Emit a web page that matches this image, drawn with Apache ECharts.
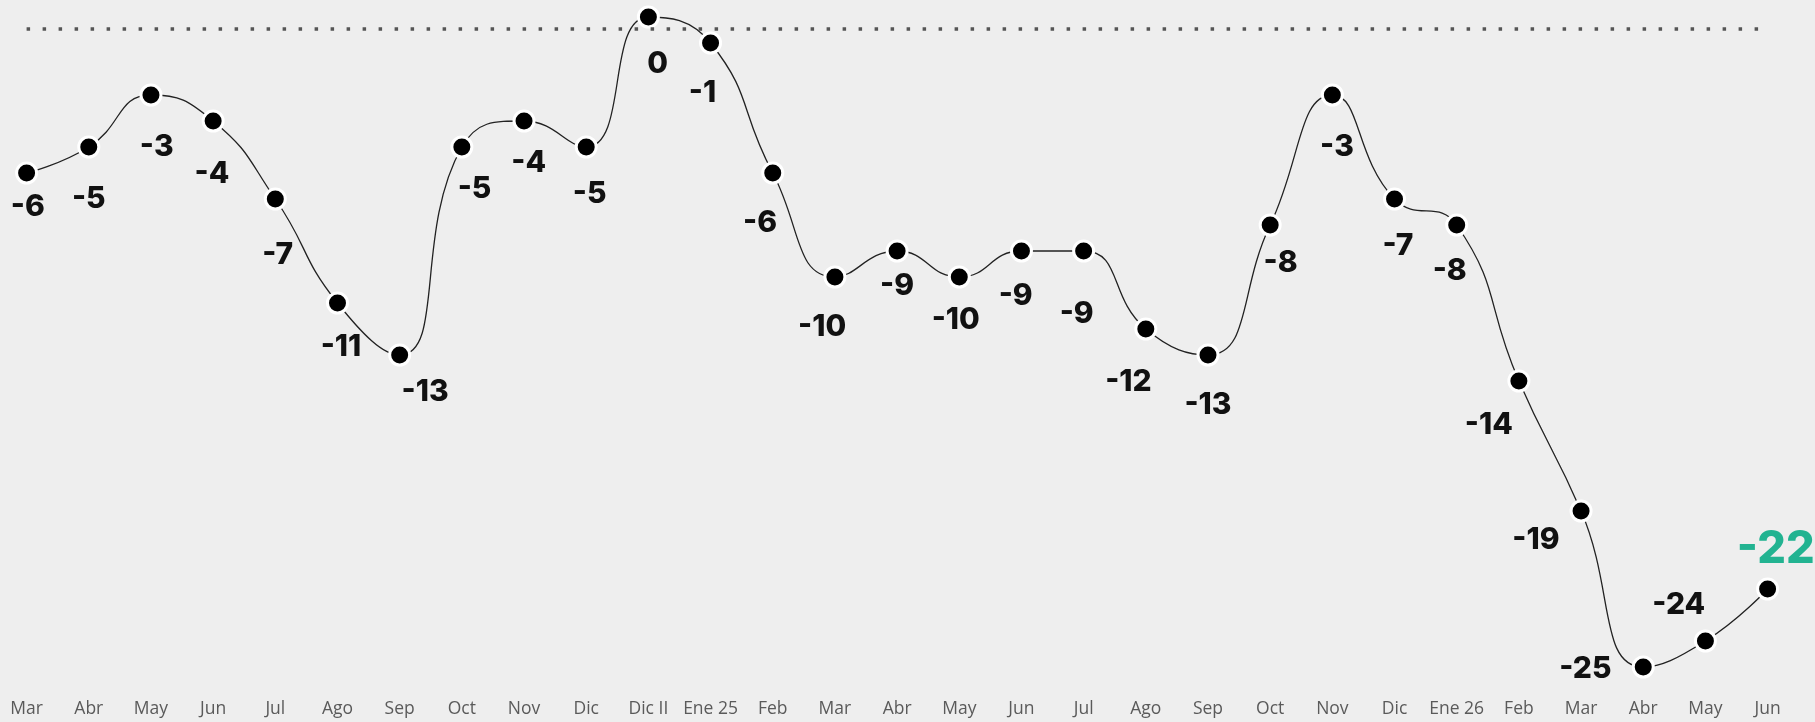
<!DOCTYPE html>
<html><head><meta charset="utf-8">
<script src="https://cdn.jsdelivr.net/npm/echarts@6/dist/echarts.min.js"></script>
<style>html,body{margin:0;padding:0;background:#eeeeee;}#c{width:1815px;height:722px;}</style>
</head><body><div id="c"></div>
<script>
const categories = ['Mar','Abr','May','Jun','Jul','Ago','Sep','Oct','Nov','Dic','Dic II','Ene 25','Feb','Mar','Abr','May','Jun','Jul','Ago','Sep','Oct','Nov','Dic','Ene 26','Feb','Mar','Abr','May','Jun'];
const values = [-6,-5,-3,-4,-7,-11,-13,-5,-4,-5,0,-1,-6,-10,-9,-10,-9,-9,-12,-13,-8,-3,-7,-8,-14,-19,-25,-24,-22];
const referenceLine = -0.47;
// label offsets (style only, px)
const labelOffsets = [[1,29],[0,45],[5,45],[-1,46],[2,48],[3,38],[22,32],[11,36],[4,36],[3,41],[8,41],[-7,43],[-11,43],[-11,43],[0,30],[-3,37],[-5,39],[-6,54],[-15,46],[0,43],[9,33],[4,45],[3,41],[-6,40],[-26,38],[-39,25],[-50,2],[-23,-31],[7,-34]];
const k = 1815/1568;
const data = values.map((v,i)=>{
  const last = i === values.length-1;
  return {
    value: v,
    label: {
      offset: [labelOffsets[i][0]*k, labelOffsets[i][1]*k],
      color: last ? '#22b391' : '#111',
      fontSize: last ? 45 : 30
    }
  };
});
const chart = echarts.init(document.getElementById('c'));
chart.setOption({
  backgroundColor: '#eeeeee',
  animation: false,
  grid: {left: 26.6, right: 47.4, top: 17, bottom: 55, containLabel: false},
  xAxis: {
    type: 'category', data: categories, boundaryGap: false,
    axisLine: {show: false}, axisTick: {show: false}, splitLine: {show: false},
    axisLabel: {color: '#5a5a5a', fontSize: 17.5, fontFamily: 'Open Sans', margin: 33, interval: 0}
  },
  yAxis: {type: 'value', min: -25, max: 0, show: false, splitLine: {show: false}},
  series: [{
    type: 'line', data: data, smooth: 0.5,
    lineStyle: {color: '#222', width: 1.3},
    symbol: 'circle', symbolSize: 20,
    itemStyle: {color: '#000', borderColor: '#fff', borderWidth: 3},
    label: {show: true, position: 'inside', align: 'center', verticalAlign: 'middle',
      fontFamily: 'Inter', fontWeight: 800, formatter: p => String(p.value)},
    markLine: {
      silent: true, symbol: ['none','none'], label: {show: false},
      lineStyle: {color: '#555', width: 3.5, type: [3.5, 12.5], cap: 'butt'},
      data: [{yAxis: referenceLine}]
    },
    z: 3
  }]
});
</script></body></html>
